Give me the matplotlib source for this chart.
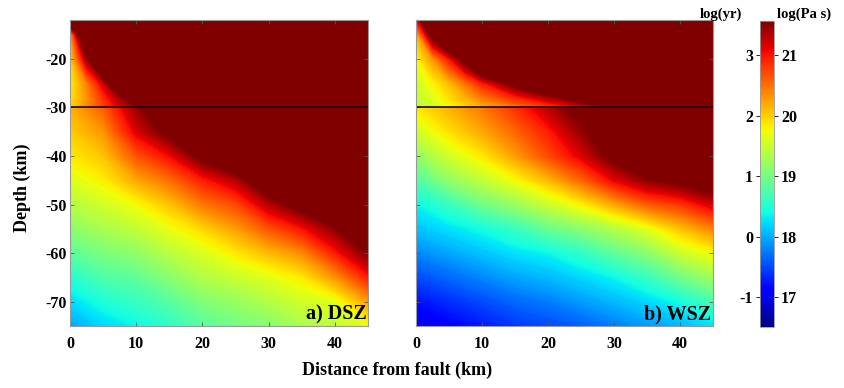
"""
Viscosity structure below the fault for two shear-zone models (DSZ / WSZ).
"""

import matplotlib.pyplot as plt
from matplotlib.cm import ScalarMappable
from matplotlib.colors import Normalize
import numpy as np


plt.rcParams["font.family"] = ["Liberation Serif", "DejaVu Serif"]
plt.rcParams["font.weight"] = "bold"
plt.rcParams["axes.unicode_minus"] = False

VMIN, VMAX = 16.5, 21.57
NORM = Normalize(VMIN, VMAX)
LEVELS = np.linspace(VMIN, VMAX, 160)

# upper crust (above the -30 km interface): log10 viscosity (Pa s) at grid nodes
DIST_UPPER = [0, 2.5, 5, 7.5, 10, 15, 20, 25, 30, 35, 40, 45]
DEPTH_UPPER = [-12, -15, -20, -25, -28, -30]

DSZ_UPPER = [
    [22.5, 23, 23, 23, 23, 23, 23, 23, 23, 23, 23, 23],
    [20.15, 23, 23, 23, 23, 23, 23, 23, 23, 23, 23, 23],
    [19.9, 21.4, 23, 23, 23, 23, 23, 23, 23, 23, 23, 23],
    [19.8, 20.4, 21.2, 22.4, 23, 23, 23, 23, 23, 23, 23, 23],
    [19.85, 20.3, 20.85, 21.4, 22.2, 23, 23, 23, 23, 23, 23, 23],
    [19.95, 20.35, 20.75, 21.15, 21.45, 22.2, 23, 23, 23, 23, 23, 23],
]
WSZ_UPPER = [
    [21.0, 23, 23, 23, 23, 23, 23, 23, 23, 23, 23, 23],
    [20.1, 21.8, 23, 23, 23, 23, 23, 23, 23, 23, 23, 23],
    [19.75, 20.3, 21.0, 21.8, 23, 23, 23, 23, 23, 23, 23, 23],
    [19.55, 19.8, 20.1, 20.5, 20.95, 21.75, 22.6, 23, 23, 23, 23, 23],
    [19.45, 19.65, 19.9, 20.15, 20.45, 20.9, 21.35, 21.9, 22.6, 23, 23, 23],
    [19.4, 19.55, 19.75, 19.95, 20.15, 20.45, 20.75, 21.1, 21.5, 21.9, 22.2, 22.5],
]

# lower crust / mantle (below the interface)
DIST_LOWER = [0, 5, 10, 15, 20, 25, 30, 35, 40, 45]
DEPTH_LOWER = [-30, -35, -40, -45, -50, -55, -60, -65, -70, -75]

DSZ_LOWER = [
    [20.15, 20.6, 21.45, 22.2, 22.8, 23, 23, 23, 23, 23],
    [20.0, 20.3, 21.15, 21.7, 22.3, 22.8, 23, 23, 23, 23],
    [19.85, 20.05, 20.65, 21.05, 21.7, 22.2, 22.6, 23, 23, 23],
    [19.62, 19.82, 20.2, 20.5, 20.95, 21.3, 22.0, 22.4, 23, 23],
    [19.38, 19.55, 19.75, 20.05, 20.45, 20.7, 21.3, 21.75, 22.2, 22.8],
    [19.12, 19.3, 19.45, 19.7, 19.95, 20.25, 20.65, 21.0, 21.5, 22.2],
    [18.82, 19.02, 19.15, 19.4, 19.6, 19.85, 20.1, 20.35, 20.95, 21.57],
    [18.5, 18.75, 18.85, 19.1, 19.35, 19.5, 19.65, 19.85, 20.3, 20.95],
    [18.22, 18.45, 18.6, 18.8, 19.05, 19.2, 19.35, 19.55, 19.65, 20.25],
    [17.95, 18.2, 18.35, 18.55, 18.8, 18.95, 19.1, 19.3, 19.45, 19.7],
]
WSZ_LOWER = [
    [19.85, 20.15, 20.45, 20.85, 21.3, 21.8, 22.4, 23, 23, 23],
    [19.55, 19.9, 20.2, 20.55, 20.95, 21.45, 22.0, 22.5, 23, 23],
    [19.15, 19.55, 19.85, 20.25, 20.7, 21.15, 21.7, 22.1, 22.5, 23],
    [18.75, 19.15, 19.45, 19.75, 20.1, 20.55, 21.1, 21.5, 21.7, 21.95],
    [18.35, 18.6, 18.95, 19.2, 19.5, 19.8, 20.2, 20.6, 20.8, 21.2],
    [18.1, 18.25, 18.4, 18.6, 18.9, 19.1, 19.35, 19.65, 20.05, 20.4],
    [17.8, 17.95, 18.1, 18.25, 18.35, 18.55, 18.85, 19.1, 19.5, 19.75],
    [17.5, 17.65, 17.8, 17.95, 18.05, 18.2, 18.35, 18.6, 18.95, 19.25],
    [17.2, 17.35, 17.5, 17.65, 17.75, 17.9, 18.05, 18.2, 18.4, 18.7],
    [16.95, 17.1, 17.25, 17.4, 17.5, 17.6, 17.75, 17.9, 18.05, 18.25],
]

PANELS = [("a) DSZ", DSZ_UPPER, DSZ_LOWER), ("b) WSZ", WSZ_UPPER, WSZ_LOWER)]
X_TICKS = [0, 10, 20, 30, 40]
Y_TICKS = [-70, -60, -50, -40, -30, -20]
CB_TICKS = [17, 18, 19, 20, 21]


def style_axes(ax):
    ax.set_xlim(0, 45)
    ax.set_ylim(-75, -12)
    ax.set_xticks(X_TICKS)
    ax.set_yticks(Y_TICKS)
    ax.tick_params(direction="in", length=3, width=0.6, color="#555555",
                   top=True, right=True, labelsize=11.5)
    ax.tick_params(axis="x", pad=7)
    ax.tick_params(axis="y", pad=2.5)
    for sp in ax.spines.values():
        sp.set_color("#999999")
        sp.set_linewidth(0.8)


def draw_panel(ax, label, upper, lower):
    kw = dict(levels=LEVELS, cmap="jet", norm=NORM, extend="both", antialiased=False)
    ax.contourf(DIST_UPPER, DEPTH_UPPER, np.array(upper), **kw)
    ax.contourf(DIST_LOWER, DEPTH_LOWER, np.array(lower), **kw)
    ax.axhline(-30, color="#1a0505", lw=1.2)
    ax.text(0.995, 0.005, label, transform=ax.transAxes, ha="right", va="bottom",
            fontsize=14.5, fontweight="bold")
    style_axes(ax)


fig = plt.figure(figsize=(8.45, 3.88), dpi=100)
ax_a = fig.add_axes([0.0828, 0.1598, 0.3527, 0.7887])
ax_b = fig.add_axes([0.4923, 0.1598, 0.3515, 0.7887])
cax = fig.add_axes([0.8994, 0.157, 0.0166, 0.789])

for ax, (label, upper, lower) in zip([ax_a, ax_b], PANELS):
    draw_panel(ax, label, upper, lower)
ax_b.tick_params(labelleft=False)

fig.text(22 / 845, 1 - 188 / 388, "Depth (km)", rotation=90, ha="center", va="center",
         fontsize=13, fontweight="bold")
fig.text(397 / 845, 1 - 370 / 388, "Distance from fault (km)", ha="center", va="center",
         fontsize=13, fontweight="bold")

# colorbar: log(Pa s) on the right, Maxwell time log(yr) on the left
cb = fig.colorbar(ScalarMappable(norm=NORM, cmap="jet"), cax=cax)
cb.set_ticks(CB_TICKS)
cb.outline.set_edgecolor("#999999")
cb.outline.set_linewidth(0.6)
cax.tick_params(direction="out", length=3, width=0.6, labelsize=11.5, pad=2)
sec = cax.secondary_yaxis("left", functions=(lambda v: v - 18, lambda v: v + 18))
sec.set_ticks([-1, 0, 1, 2, 3])
sec.tick_params(direction="out", length=3, width=0.6, labelsize=11.5, pad=2)
sec.spines["left"].set_visible(False)

fig.text(721 / 845, 1 - 14 / 388, "log(yr)", ha="center", va="center", fontsize=10.5,
         fontweight="bold")
fig.text(804 / 845, 1 - 14 / 388, "log(Pa s)", ha="center", va="center", fontsize=10.5,
         fontweight="bold")

fig.savefig("out.png", dpi=100)
